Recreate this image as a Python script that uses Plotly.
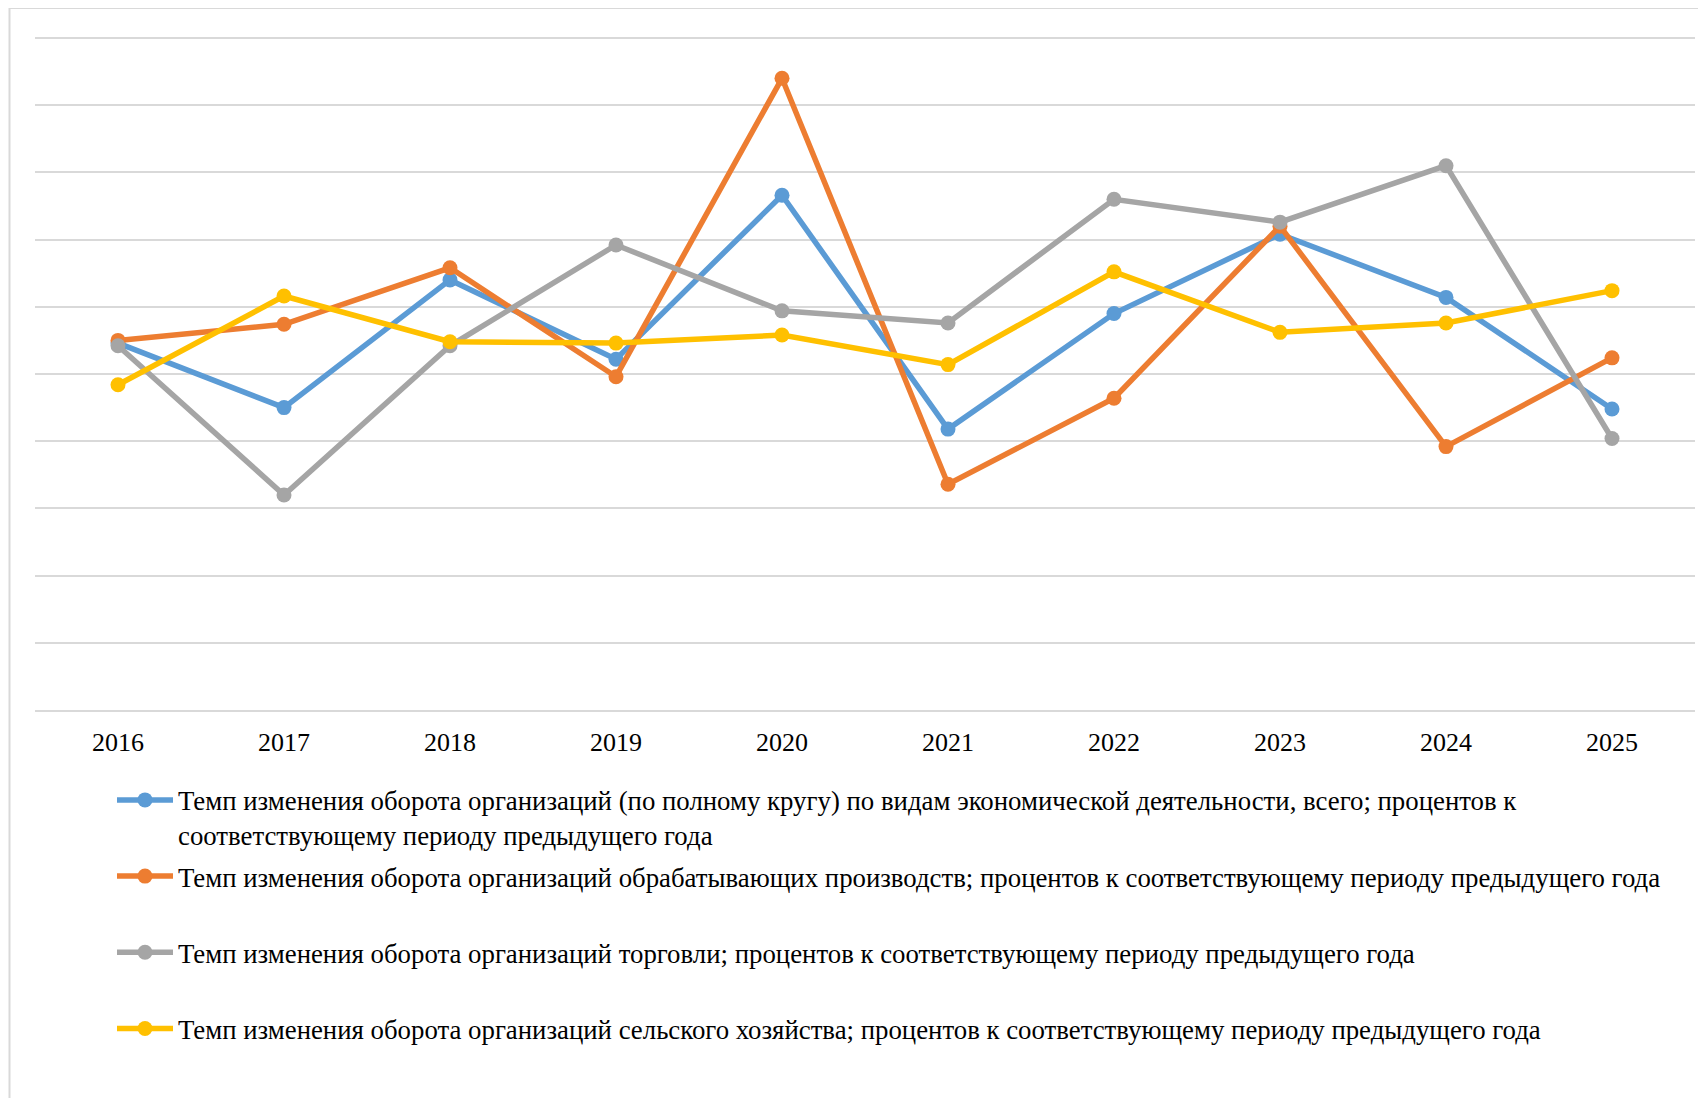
import plotly.graph_objects as go

years = ["2016", "2017", "2018", "2019", "2020", "2021", "2022", "2023", "2024", "2025"]

total = [97.3, 92.5, 102.0, 96.1, 108.3, 90.9, 99.5, 105.4, 100.7, 92.4]
manufacturing = [97.5, 98.7, 102.9, 94.8, 117.0, 86.8, 93.2, 106.0, 89.6, 96.2]
trade = [97.1, 86.0, 97.1, 104.6, 99.7, 98.8, 108.0, 106.3, 110.5, 90.2]
agriculture = [94.2, 100.8, 97.4, 97.3, 97.9, 95.7, 102.6, 98.1, 98.8, 101.2]

names = [
    "Темп изменения оборота организаций (по полному кругу) по видам экономической деятельности, всего; процентов к<br>соответствующему периоду предыдущего года",
    "Темп изменения оборота организаций обрабатывающих производств; процентов к соответствующему периоду предыдущего года<br> ",
    "Темп изменения оборота организаций торговли; процентов к соответствующему периоду предыдущего года<br> ",
    "Темп изменения оборота организаций сельского хозяйства; процентов к соответствующему периоду предыдущего года<br> ",
]
series = [total, manufacturing, trade, agriculture]
colors = ["#5B9BD5", "#ED7D31", "#A5A5A5", "#FFC000"]

fig = go.Figure()
for i, (nm, vals, c) in enumerate(zip(names, series, colors)):
    fig.add_trace(go.Scatter(
        x=years, y=vals, name=nm, mode="lines+markers",
        line=dict(color=c, width=5.5),
        marker=dict(color=c, size=15),
        legendgroup=f"g{i}",
    ))

W, H = 1698, 1090
L, T, R, B = 27, 30, 11, 388
PH = H - T - B
PW = W - L - R

FONT = "Liberation Serif"
fig.update_layout(
    width=W, height=H,
    margin=dict(l=L, r=R, t=T, b=B, autoexpand=False),
    paper_bgcolor="white", plot_bgcolor="white",
    font=dict(family=FONT, color="black", size=26),
    showlegend=True,
    legend=dict(
        xref="container", yref="container",
        x=104 / W, y=1 - 768 / H, xanchor="left", yanchor="top",
        font=dict(family=FONT, size=26.8, color="black"),
        valign="top", itemwidth=56, tracegroupgap=3.5,
        traceorder="grouped", bgcolor="rgba(0,0,0,0)",
    ),
    xaxis=dict(
        type="category", range=[-0.5, 9.5],
        showgrid=False, showline=True, linecolor="#D9D9D9", linewidth=2,
        ticks="outside", ticklen=8, tickcolor="rgba(0,0,0,0)",
        tickfont=dict(family=FONT, size=26, color="black"),
        zeroline=False,
    ),
    yaxis=dict(
        range=[70, 120], dtick=5, tick0=70,
        showgrid=True, gridcolor="#D9D9D9", gridwidth=2,
        showticklabels=False, zeroline=False, showline=False, ticks="",
    ),
    shapes=[
        dict(type="line", xref="paper", yref="paper",
             x0=(1.5 - L) / PW, x1=1.2, y0=(PH + T) / PH, y1=(PH + T) / PH,
             line=dict(color="#D9D9D9", width=2)),
        dict(type="line", xref="paper", yref="paper",
             x0=(1.5 - L) / PW, x1=(1.5 - L) / PW, y0=(PH + T) / PH, y1=-1.0,
             line=dict(color="#D9D9D9", width=2)),
        dict(type="line", xref="paper", yref="paper",
             x0=0, x1=1, y0=1, y1=1, layer="below",
             line=dict(color="#D9D9D9", width=2)),
    ],
)

fig.write_html("out.html")
